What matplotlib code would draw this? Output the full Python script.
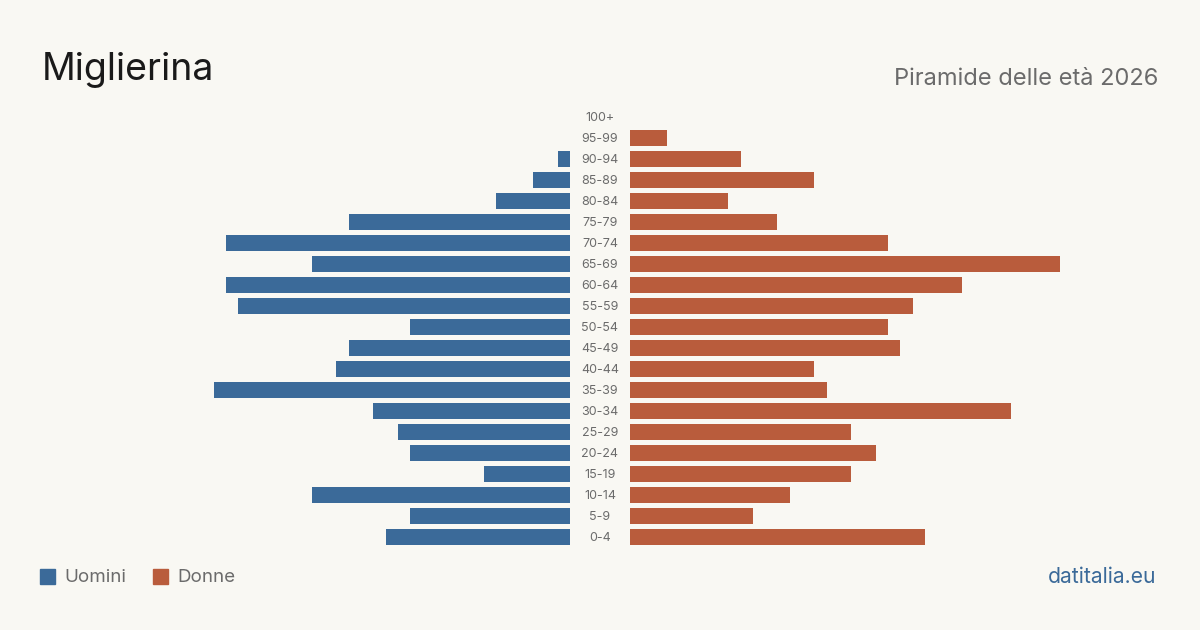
"""Population pyramid for Miglierina, 2026 (datitalia.eu style)."""

import matplotlib.pyplot as plt
from matplotlib.transforms import blended_transform_factory

plt.rcParams["font.family"] = ["Inter", "DejaVu Sans"]

age_groups = ["0-4", "5-9", "10-14", "15-19", "20-24", "25-29", "30-34",
              "35-39", "40-44", "45-49", "50-54", "55-59", "60-64", "65-69",
              "70-74", "75-79", "80-84", "85-89", "90-94", "95-99", "100+"]
men = [15, 13, 21, 7, 13, 14, 16, 29, 19, 18, 13, 27, 28, 21, 28, 18, 6, 3, 1, 0, 0]
women = [24, 10, 13, 18, 20, 18, 31, 16, 15, 22, 21, 23, 27, 35, 21, 12, 8, 15, 9, 3, 0]

BG = "#f9f8f3"
BLUE = "#3b6a99"
ORANGE = "#b95c3c"
GREY = "#6b6b6b"

W, H = 1200, 630
fig = plt.figure(figsize=(W / 100, H / 100), dpi=100, facecolor=BG)

px_per_unit = 12.29
xmax = 570 / px_per_unit
y_bot = 1 - 547.5 / H
y_h = 441 / H

ax_l = fig.add_axes([0, y_bot, 570 / W, y_h])
ax_r = fig.add_axes([630 / W, y_bot, 570 / W, y_h])
pos = list(range(len(age_groups)))

ax_l.barh(pos, men, height=0.8, color=BLUE)
ax_r.barh(pos, women, height=0.8, color=ORANGE)
ax_l.set_xlim(xmax, 0)
ax_r.set_xlim(0, xmax)
for ax in (ax_l, ax_r):
    ax.set_ylim(-0.5, len(age_groups) - 0.5)
    ax.axis("off")

trans = blended_transform_factory(fig.transFigure, ax_l.transData)
for p, lab in zip(pos, age_groups):
    ax_l.text(0.5, p - 0.05, lab, transform=trans, ha="center", va="center",
              fontsize=9, color=GREY)

fig.text(42 / W, 1 - 80 / H, "Miglierina", fontsize=27, color="#1a1a1a",
         ha="left", va="baseline")
fig.text(1158 / W, 1 - 85 / H, "Piramide delle età 2026", fontsize=17,
         color=GREY, ha="right", va="baseline")

# legend
fig.patches.append(plt.Rectangle((40 / W, 1 - 584 / H), 15 / W, 15 / H,
                                 transform=fig.transFigure, color=BLUE))
fig.text(64 / W, 1 - 577 / H, "Uomini", fontsize=13.5, color=GREY,
         ha="left", va="center")
fig.patches.append(plt.Rectangle((153 / W, 1 - 584 / H), 15 / W, 15 / H,
                                 transform=fig.transFigure, color=ORANGE))
fig.text(177 / W, 1 - 577 / H, "Donne", fontsize=13.5, color=GREY,
         ha="left", va="center")

fig.text(1156 / W, 1 - 577 / H, "datitalia.eu", fontsize=15.2, color=BLUE,
         ha="right", va="center")

fig.savefig("out.png", dpi=100, facecolor=BG)
